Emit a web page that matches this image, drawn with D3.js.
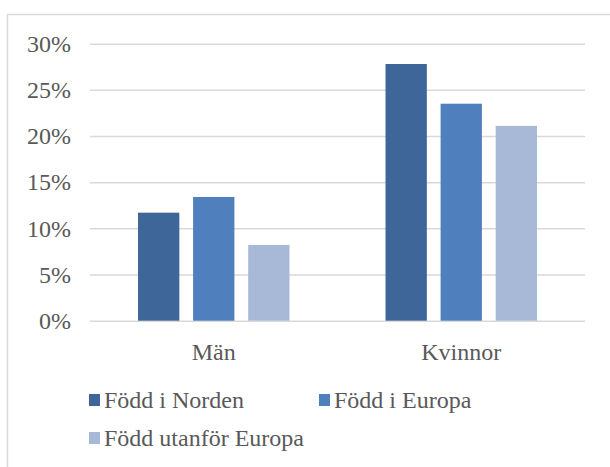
<!DOCTYPE html>
<html><head><meta charset="utf-8">
<script src="https://cdn.jsdelivr.net/npm/d3@7"></script>
<style>body{margin:0;background:#fff}svg{display:block}</style>
</head><body>
<script>
const categories = ["Män", "Kvinnor"];
const series = ["Född i Norden", "Född i Europa", "Född utanför Europa"];
const fodd_i_norden = [0.117, 0.278];
const fodd_i_europa = [0.134, 0.235];
const fodd_utanfor_europa = [0.082, 0.211];
const tickValues = [0, 0.05, 0.10, 0.15, 0.20, 0.25, 0.30];
const colors = ["#3f6698", "#4f80bd", "#a8b9d8"];
const values = [fodd_i_norden, fodd_i_europa, fodd_utanfor_europa];

const W = 610, H = 467;
const svg = d3.select("body").append("svg").attr("width", W).attr("height", H);
const font = "'Liberation Serif','Times New Roman',serif";
const txt = "#595959";
const fs = 24;

// frame
svg.append("rect").attr("x", 7.5).attr("y", 14.5).attr("width", 700).attr("height", 600)
  .attr("fill", "#fff").attr("stroke", "#d9d9d9").attr("stroke-width", 1.5);

const y = d3.scaleLinear().domain([0, 0.30]).range([320.7, 43.7]);
const x0 = d3.scaleBand().domain(categories).range([90, 585]).paddingInner(0.388).paddingOuter(0.194);
const x1 = d3.scaleBand().domain(series).range([0, x0.bandwidth()]).paddingInner(0.25);

const yAxis = d3.axisLeft(y).tickValues(tickValues).tickSize(-(585 - 90))
  .tickFormat(d => Math.round(d * 100) + "%").tickPadding(19);
const ga = svg.append("g").attr("transform", "translate(90,0)").call(yAxis);
ga.select(".domain").remove();
ga.selectAll(".tick line").attr("stroke", "#d9d9d9").attr("stroke-width", 1.5);
ga.selectAll(".tick text").attr("font-family", font).attr("font-size", fs).attr("fill", txt);

// bars
categories.forEach((c, ci) => {
  series.forEach((s, si) => {
    const v = values[si][ci];
    svg.append("rect")
      .attr("x", x0(c) + x1(s)).attr("width", x1.bandwidth())
      .attr("y", y(v)).attr("height", y(0) - y(v))
      .attr("fill", colors[si]);
  });
});

// category axis labels
const xAxis = d3.axisBottom(x0).tickSize(0).tickPadding(22);
const gx = svg.append("g").attr("transform", "translate(0,320.7)").call(xAxis);
gx.select(".domain").remove();
gx.selectAll(".tick text").attr("font-family", font).attr("font-size", fs).attr("fill", txt);

// legend
const legendPos = [[89, 400], [319, 400], [89, 438]];
series.forEach((s, i) => {
  const g = svg.append("g").attr("transform", `translate(${legendPos[i][0]},${legendPos[i][1]})`);
  g.append("rect").attr("x", 0).attr("y", -6).attr("width", 11).attr("height", 12).attr("fill", colors[i]);
  g.append("text").attr("x", 15).attr("y", 0).attr("dy", "0.35em")
    .attr("font-family", font).attr("font-size", fs).attr("fill", txt).text(s);
});
</script>
</body></html>
